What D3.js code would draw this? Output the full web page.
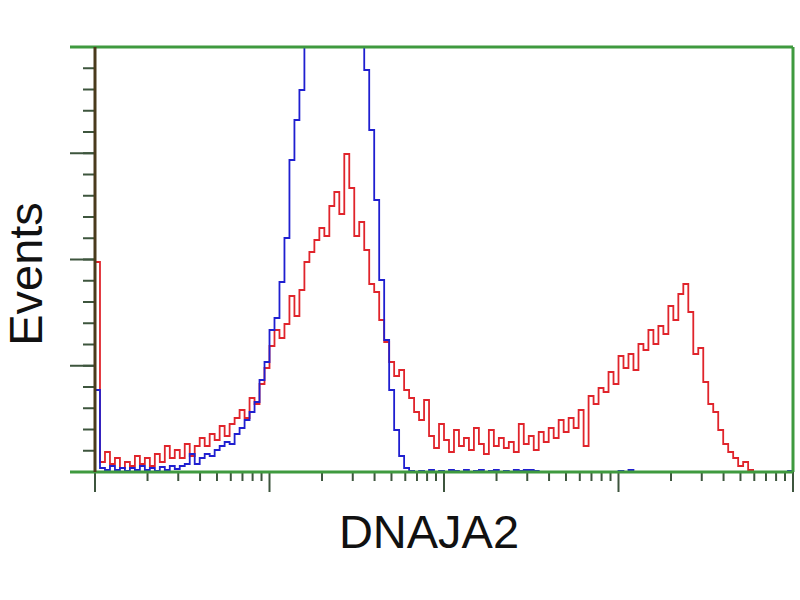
<!DOCTYPE html>
<html lang="en">
<head>
<meta charset="UTF-8">
<title>DNAJA2 histogram</title>
<script src="https://d3js.org/d3.v7.min.js"></script>
<style>
    body { margin: 0; background: #fff; }
    text { font-family: "Liberation Sans", Arial, sans-serif; fill: #111; }
</style>
</head>
<body>
<div id="chart"></div>
<script>
// histogram bins, log channel 10^0 .. 10^4, 140 bins
var nBins = 140;
var decades = [1, 10, 100, 1000, 10000];
var yMax = 425;   // axis units (no labels on the picture)

// sample (red)
var redCounts = [
    210, 10, 20, 8, 14, 4, 10, 6, 16, 8,
    14, 6, 18, 10, 26, 14, 22, 14, 28, 16,
    26, 34, 26, 38, 32, 46, 36, 48, 54, 62,
    54, 74, 68, 88, 104, 126, 142, 134, 148, 176,
    156, 182, 210, 220, 232, 244, 236, 266, 280, 258,
    318, 284, 236, 250, 222, 188, 180, 152, 130, 110,
    96, 102, 82, 74, 60, 52, 72, 36, 24, 48,
    32, 20, 42, 26, 34, 22, 44, 28, 18, 42,
    26, 34, 24, 30, 20, 48, 28, 36, 22, 40,
    30, 44, 34, 52, 40, 54, 44, 62, 26, 76,
    68, 84, 80, 100, 88, 116, 104, 118, 102, 128,
    122, 142, 128, 146, 138, 166, 152, 178, 188, 160,
    118, 124, 90, 68, 60, 42, 28, 20, 14, 6,
    10, 2, 0, 0, 0, 0, 0, 0, 0, 0
];

// control (blue)
var blueCounts = [
    82, 4, 2, 6, 2, 4, 1, 4, 2, 6,
    2, 4, 1, 5, 2, 6, 3, 6, 8, 18,
    8, 14, 18, 16, 22, 26, 30, 28, 38, 44,
    52, 60, 70, 92, 110, 142, 154, 190, 234, 312,
    352, 382, 450, 520, 580, 630, 660, 670, 660, 640,
    600, 550, 490, 440, 402, 342, 272, 192, 132, 82,
    42, 16, 4, 1, 0, 1, 0, 2, 0, 1,
    0, 2, 1, 0, 2, 0, 1, 2, 0, 1,
    2, 0, 1, 0, 2, 1, 2, 2, 1, 0,
    0, 0, 0, 0, 0, 0, 0, 0, 0, 0,
    0, 0, 0, 0, 0, 1, 0, 2, 0, 0,
    0, 0, 0, 0, 0, 0, 0, 0, 0, 0,
    0, 0, 0, 0, 0, 0, 0, 0, 0, 0,
    0, 0, 0, 0, 0, 0, 0, 0, 0, 1
];

var xLabel = "DNAJA2";
var yLabel = "Events";

var width = 800, height = 600;
var plot = {left: 95, right: 793, top: 47, bottom: 472};

var svg = d3.select("#chart").append("svg")
    .attr("width", width)
    .attr("height", height);

var x = d3.scaleLog()
    .domain([decades[0], decades[decades.length - 1]])
    .range([plot.left, plot.right]);

var y = d3.scaleLinear()
    .domain([0, yMax])
    .range([plot.bottom, plot.top]);

function binEdge(i) {
    return Math.pow(10, i * 4 / nBins);
}

svg.append("clipPath").attr("id", "clip")
    .append("rect")
    .attr("x", plot.left)
    .attr("y", plot.top)
    .attr("width", plot.right - plot.left)
    .attr("height", plot.bottom - plot.top);

// ticks
var tickColor = "#3d553d";
var majorY = d3.range(0, 5).map(function(k) { return k * yMax / 4; });
var minorY = d3.range(0, 21).map(function(k) { return k * yMax / 20; });

svg.append("g").selectAll("line")
    .data(minorY)
    .enter().append("line")
    .attr("x1", 83).attr("x2", plot.left)
    .attr("y1", function(d) { return y(d); })
    .attr("y2", function(d) { return y(d); })
    .attr("stroke", tickColor).attr("stroke-width", 2);

svg.append("g").selectAll("line")
    .data(majorY)
    .enter().append("line")
    .attr("x1", 70).attr("x2", plot.left)
    .attr("y1", function(d) { return y(d); })
    .attr("y2", function(d) { return y(d); })
    .attr("stroke", tickColor).attr("stroke-width", 2);

var minorX = [];
decades.slice(0, -1).forEach(function(dd) {
    for (var m = 2; m <= 9; m++) minorX.push(dd * m);
});

svg.append("g").selectAll("line")
    .data(minorX)
    .enter().append("line")
    .attr("x1", function(d) { return x(d); })
    .attr("x2", function(d) { return x(d); })
    .attr("y1", plot.bottom).attr("y2", plot.bottom + 9)
    .attr("stroke", tickColor).attr("stroke-width", 2);

svg.append("g").selectAll("line")
    .data(decades)
    .enter().append("line")
    .attr("x1", function(d) { return x(d); })
    .attr("x2", function(d) { return x(d); })
    .attr("y1", plot.bottom).attr("y2", plot.bottom + 20)
    .attr("stroke", tickColor).attr("stroke-width", 2);

// histograms
function histPath(counts) {
    var pts = [[binEdge(0), 0]];
    counts.forEach(function(c, i) { pts.push([binEdge(i), c]); });
    pts.push([binEdge(nBins), counts[counts.length - 1]]);
    return d3.line()
        .x(function(d) { return x(d[0]); })
        .y(function(d) { return y(d[1]); })
        .curve(d3.curveStepAfter)(pts);
}

var g = svg.append("g").attr("clip-path", "url(#clip)");

g.append("path")
    .attr("d", histPath(redCounts))
    .attr("fill", "none")
    .attr("stroke", "#e0242b")
    .attr("stroke-width", 1.8);

g.append("path")
    .attr("d", histPath(blueCounts))
    .attr("fill", "none")
    .attr("stroke", "#1f1fd0")
    .attr("stroke-width", 1.8);

// frame
var frameColor = "#3f9a3f";
svg.append("line")
    .attr("x1", 70).attr("x2", plot.right)
    .attr("y1", plot.top).attr("y2", plot.top)
    .attr("stroke", frameColor).attr("stroke-width", 3);
svg.append("line")
    .attr("x1", 70).attr("x2", plot.right)
    .attr("y1", plot.bottom).attr("y2", plot.bottom)
    .attr("stroke", frameColor).attr("stroke-width", 3);
svg.append("line")
    .attr("x1", plot.right).attr("x2", plot.right)
    .attr("y1", plot.top).attr("y2", plot.bottom)
    .attr("stroke", frameColor).attr("stroke-width", 3);
svg.append("line")
    .attr("x1", plot.left).attr("x2", plot.left)
    .attr("y1", plot.top).attr("y2", plot.bottom)
    .attr("stroke", "#4a3a1c").attr("stroke-width", 3);

// labels
svg.append("text")
    .attr("x", 429).attr("y", 548)
    .attr("text-anchor", "middle")
    .style("font-size", "47px")
    .text(xLabel);

svg.append("text")
    .attr("transform", "translate(42,274) rotate(-90)")
    .attr("text-anchor", "middle")
    .style("font-size", "47px")
    .text(yLabel);
</script>
</body>
</html>
